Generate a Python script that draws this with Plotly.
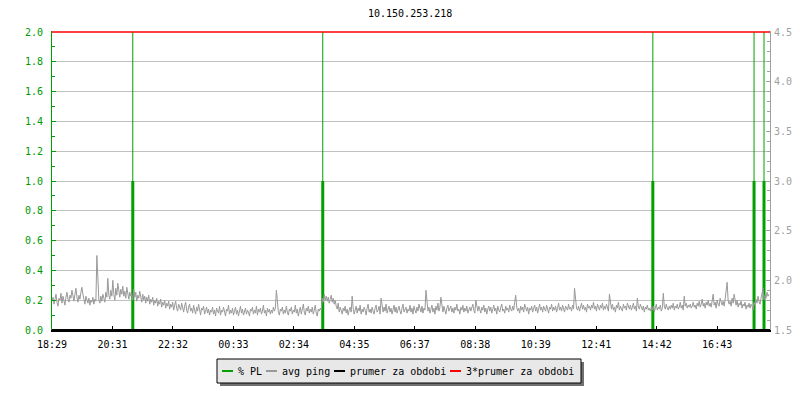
import datetime as dt
import plotly.graph_objects as go

title = "10.150.253.218"
start = dt.datetime(2024, 1, 1, 18, 29)
span_minutes = 1440
step_minutes = 2

# avg ping [ms], one sample every 2 minutes from 18:29
avg_ping = [
    1.79,1.83,1.76,1.81,1.86,1.78,1.74,1.82,1.80,1.87,1.77,1.84,1.79,1.75,1.83,1.88,1.81,1.78,1.85,1.82,
    1.90,1.84,1.79,1.86,1.92,1.83,1.78,1.85,1.81,1.88,1.93,1.86,1.80,1.76,1.84,1.79,1.77,1.82,1.75,1.80,
    1.78,1.83,1.76,1.81,1.79,2.25,2.04,1.80,1.77,1.84,1.79,1.86,1.82,1.78,1.88,1.83,2.02,1.85,1.81,1.90,
    1.84,2.00,1.86,1.80,1.92,1.85,1.97,1.88,1.83,1.91,1.86,1.94,1.84,1.89,1.82,1.93,1.87,1.81,1.88,1.84,
    1.86,1.80,1.91,1.83,1.88,1.79,1.85,1.82,1.89,1.81,1.78,1.86,1.80,1.84,1.77,1.83,1.79,1.85,1.76,1.81,
    1.78,1.83,1.75,1.80,1.77,1.82,1.74,1.79,1.76,1.81,1.73,1.78,1.75,1.80,1.72,1.77,1.74,1.79,1.71,1.76,
    1.73,1.78,1.70,1.75,1.79,1.72,1.69,1.76,1.73,1.70,1.77,1.71,1.68,1.74,1.78,1.70,1.67,1.73,1.76,1.69,
    1.72,1.67,1.75,1.70,1.66,1.73,1.69,1.76,1.68,1.65,1.72,1.70,1.74,1.66,1.69,1.73,1.67,1.71,1.65,1.70,
    1.68,1.73,1.66,1.70,1.64,1.72,1.69,1.67,1.74,1.65,1.70,1.68,1.73,1.66,1.64,1.71,1.69,1.75,1.66,1.70,
    1.67,1.72,1.65,1.69,1.73,1.66,1.70,1.64,1.68,1.74,1.67,1.71,1.65,1.69,1.72,1.66,1.70,1.68,1.64,1.71,
    1.69,1.73,1.66,1.70,1.67,1.74,1.65,1.71,1.68,1.72,1.66,1.69,1.75,1.67,1.70,1.64,1.72,1.68,1.71,1.66,
    1.70,1.67,1.73,1.69,1.72,1.90,1.74,1.68,1.65,1.71,1.69,1.73,1.66,1.70,1.67,1.74,1.68,1.65,1.71,1.69,
    1.73,1.66,1.70,1.68,1.75,1.67,1.71,1.64,1.69,1.73,1.66,1.70,1.76,1.68,1.65,1.72,1.69,1.74,1.67,1.71,
    1.68,1.73,1.66,1.70,1.75,1.67,1.64,1.71,1.69,1.72,1.70,1.82,1.78,1.86,1.80,1.84,1.79,1.83,1.77,1.81,
    1.85,1.78,1.82,1.76,1.80,1.74,1.71,1.77,1.68,1.73,1.70,1.66,1.72,1.69,1.74,1.67,1.71,1.65,1.70,1.73,
    1.68,1.84,1.72,1.66,1.70,1.74,1.67,1.72,1.69,1.75,1.66,1.71,1.68,1.73,1.70,1.65,1.72,1.76,1.68,1.71,
    1.67,1.73,1.69,1.66,1.72,1.75,1.68,1.70,1.74,1.66,1.82,1.71,1.68,1.73,1.69,1.76,1.67,1.71,1.74,1.68,
    1.72,1.66,1.70,1.75,1.68,1.73,1.67,1.71,1.74,1.69,1.66,1.72,1.76,1.68,1.70,1.73,1.67,1.71,1.69,1.75,
    1.68,1.72,1.66,1.74,1.70,1.67,1.73,1.69,1.76,1.71,1.68,1.74,1.67,1.72,1.70,1.90,1.75,1.69,1.73,1.67,
    1.71,1.75,1.68,1.72,1.66,1.74,1.70,1.77,1.69,1.73,1.83,1.71,1.68,1.74,1.70,1.66,1.72,1.75,1.69,1.71,
    1.74,1.68,1.72,1.67,1.73,1.70,1.76,1.69,1.71,1.66,1.73,1.70,1.75,1.68,1.72,1.69,1.74,1.67,1.71,1.73,
    1.69,1.72,1.76,1.70,1.67,1.80,1.73,1.69,1.74,1.71,1.67,1.73,1.70,1.75,1.68,1.72,1.66,1.71,1.74,1.69,
    1.73,1.67,1.71,1.75,1.69,1.72,1.66,1.74,1.70,1.68,1.73,1.76,1.69,1.71,1.67,1.74,1.70,1.72,1.68,1.75,
    1.71,1.69,1.74,1.70,1.78,1.85,1.73,1.69,1.72,1.67,1.74,1.70,1.73,1.68,1.76,1.71,1.69,1.73,1.66,1.72,
    1.70,1.74,1.68,1.72,1.75,1.69,1.73,1.67,1.71,1.76,1.70,1.73,1.68,1.74,1.71,1.69,1.75,1.72,1.67,1.73,
    1.71,1.76,1.69,1.73,1.70,1.74,1.68,1.72,1.77,1.70,1.73,1.69,1.75,1.71,1.68,1.74,1.72,1.70,1.76,1.71,
    1.73,1.69,1.75,1.71,1.92,1.76,1.72,1.70,1.74,1.69,1.73,1.77,1.71,1.75,1.70,1.73,1.68,1.76,1.72,1.74,
    1.70,1.75,1.72,1.78,1.71,1.74,1.69,1.76,1.73,1.70,1.75,1.72,1.77,1.70,1.74,1.71,1.76,1.72,1.69,1.86,
    1.74,1.71,1.76,1.70,1.73,1.68,1.75,1.72,1.78,1.70,1.74,1.71,1.69,1.76,1.72,1.74,1.70,1.77,1.73,1.71,
    1.75,1.70,1.73,1.77,1.71,1.74,1.69,1.82,1.73,1.71,1.76,1.72,1.70,1.74,1.68,1.73,1.71,1.75,1.70,1.72,
    1.69,1.73,1.70,1.74,1.68,1.72,1.76,1.70,1.73,1.71,1.75,1.69,1.72,1.87,1.74,1.71,1.76,1.72,1.70,1.74,
    1.71,1.75,1.72,1.77,1.70,1.74,1.72,1.76,1.71,1.73,1.78,1.72,1.75,1.70,1.84,1.74,1.77,1.72,1.75,1.73,
    1.76,1.72,1.74,1.78,1.73,1.75,1.71,1.77,1.74,1.79,1.73,1.76,1.81,1.74,1.77,1.72,1.78,1.75,1.80,1.74,
    1.77,1.73,1.79,1.86,1.75,1.78,1.72,1.80,1.76,1.74,1.82,1.77,1.75,1.79,1.74,1.81,1.88,1.98,1.80,1.76,
    1.79,1.74,1.82,1.77,1.86,1.78,1.75,1.80,1.73,1.77,1.75,1.79,1.72,1.76,1.74,1.78,1.71,1.75,1.73,1.77,
    1.72,1.76,1.74,1.70,1.78,1.75,1.81,1.77,1.84,1.79,1.76,1.82,1.87,1.92,1.80,1.85,1.82,1.88,1.84,1.86,
]

# packet loss events (% PL)
pl_times = ["21:11", "03:32", "14:34", "17:57", "18:17"]
pl_values = [1.0, 1.0, 1.0, 1.0, 1.0]

prumer = 1.5          # prumer za obdobi [ms]
prumer3 = 3 * prumer  # 3*prumer za obdobi

tick_labels = ["18:29", "20:31", "22:32", "00:33", "02:34", "04:35",
               "06:37", "08:38", "10:39", "12:41", "14:42", "16:43"]

legend_names = ["% PL", "avg ping", "prumer za obdobi", "3*prumer za obdobi"]

left_range = [0, 2.0]
right_range = [1.5, 4.5]

GREEN = "#00a000"
GREEN_TXT = "#009900"
GRAY = "#999999"
AXGRAY = "#a0a0a0"
FONT = "DejaVu Sans Mono"

# geometry (figure pixels; the page adds an 8px body margin)
OFF = 8
W, H = 792, 392
ML, MR, MT, MB = 44, 30, 23, 70
PW, PH = W - ML - MR, H - MT - MB

pad_left = (left_range[1] - left_range[0]) / PH
pad_right = (right_range[1] - right_range[0]) / PH

end = start + dt.timedelta(minutes=span_minutes)
ping_x = [start + dt.timedelta(minutes=i * step_minutes) for i in range(len(avg_ping))]


def to_dt(hhmm):
    h, m = map(int, hhmm.split(":"))
    t = start.replace(hour=h, minute=m)
    if t < start:
        t += dt.timedelta(days=1)
    return t


pl_x = [to_dt(t) for t in pl_times]
first_tick, last_tick = to_dt(tick_labels[0]), to_dt(tick_labels[-1])
n = len(tick_labels)
tick_vals = [first_tick + (last_tick - first_tick) * k / (n - 1) for k in range(n)]

fig = go.Figure()

fig.add_trace(go.Scatter(x=ping_x, y=avg_ping, mode="lines", name=legend_names[1],
                         line=dict(color=GRAY, width=1), yaxis="y2", showlegend=False))

bx, by, tx, ty = [], [], [], []
for t, v in zip(pl_x, pl_values):
    bx += [t, t, None]
    by += [left_range[0], v, None]
    tx += [t, t, None]
    ty += [v, left_range[1], None]
fig.add_trace(go.Scatter(x=tx, y=ty, mode="lines", showlegend=False,
                         line=dict(color=GREEN, width=1), hoverinfo="skip"))
fig.add_trace(go.Scatter(x=bx, y=by, mode="lines", name=legend_names[0],
                         line=dict(color=GREEN, width=3), showlegend=False))

fig.add_trace(go.Scatter(x=[start, end], y=[prumer, prumer], mode="lines",
                         name=legend_names[2], line=dict(color="black", width=2),
                         yaxis="y2", showlegend=False))
fig.add_trace(go.Scatter(x=[start, end], y=[prumer3, prumer3], mode="lines",
                         name=legend_names[3], line=dict(color="red", width=1.5),
                         yaxis="y2", showlegend=False))


def px_x(p):
    return (p - OFF - ML) / PW


def px_y(p):
    return (H - MB - (p - OFF)) / PH


# legend box with shadow, swatches and labels (page pixel layout)
colors = [GREEN, GRAY, "black", "red"]
box = (217, 359, 581, 383)
sh = 3
swatch_x = [222, 266, 334, 450]
swatch_len = 11
text_gap = 4
ly = 371

fig.add_shape(type="rect", xref="paper", yref="paper",
              x0=px_x(box[0] + sh), x1=px_x(box[2] + sh),
              y0=px_y(box[1] + sh), y1=px_y(box[3] + sh),
              fillcolor="#707070", line=dict(width=0))
fig.add_shape(type="rect", xref="paper", yref="paper",
              x0=px_x(box[0]), x1=px_x(box[2]), y0=px_y(box[1]), y1=px_y(box[3]),
              fillcolor="#e8e8e8", line=dict(color="black", width=1))
for sx, c, nm in zip(swatch_x, colors, legend_names):
    fig.add_shape(type="line", xref="paper", yref="paper",
                  x0=px_x(sx), x1=px_x(sx + swatch_len), y0=px_y(ly), y1=px_y(ly),
                  line=dict(color=c, width=2))
    fig.add_annotation(xref="paper", yref="paper", x=px_x(sx + swatch_len + text_gap),
                       y=px_y(ly), xanchor="left", yanchor="middle", showarrow=False,
                       text=nm, borderpad=0,
                       font=dict(family=FONT, size=10, color="black"))

fig.add_annotation(xref="paper", yref="paper", x=px_x(410), y=px_y(13),
                   xanchor="center", yanchor="middle", showarrow=False,
                   text=title, font=dict(family=FONT, size=10, color="black"))

fig.update_layout(
    width=W, height=H,
    margin=dict(l=ML, r=MR, t=MT, b=MB),
    paper_bgcolor="white", plot_bgcolor="white",
    font=dict(family=FONT, size=10, color="black"),
    xaxis=dict(type="date", range=[start, end], tickvals=tick_vals, ticktext=tick_labels,
               showgrid=False, zeroline=False, showline=True, linecolor="black", linewidth=2,
               ticks="inside", ticklen=4, tickcolor="black", automargin=False,
               ticklabelstandoff=4,
               tickfont=dict(family=FONT, size=10, color="black")),
    yaxis=dict(range=[left_range[0], left_range[1] + pad_left], dtick=0.2, tick0=0,
               tickformat=".1f", showgrid=True,
               gridcolor="#c0c0c0", gridwidth=1, zeroline=False,
               showline=True, linecolor=GREEN, linewidth=1,
               ticks="inside", ticklen=4, tickcolor=GREEN, automargin=False,
               ticklabelstandoff=6,
               minor=dict(dtick=0.1, tick0=0, ticks="inside", ticklen=3, tickcolor=GREEN,
                          showgrid=False),
               tickfont=dict(family=FONT, size=10, color=GREEN_TXT)),
    yaxis2=dict(range=[right_range[0], right_range[1] + pad_right], dtick=0.5, tick0=1.5,
                tickformat=".1f", overlaying="y", side="right",
                showgrid=False, zeroline=False, showline=True, linecolor=AXGRAY, linewidth=1,
                ticks="inside", ticklen=4, tickcolor=AXGRAY, automargin=False,
                ticklabelstandoff=1,
                minor=dict(dtick=0.1, tick0=1.5, ticks="inside", ticklen=3,
                           tickcolor=AXGRAY, showgrid=False),
                tickfont=dict(family=FONT, size=10, color=AXGRAY)),
    showlegend=False,
)

fig.write_html("out.html")
